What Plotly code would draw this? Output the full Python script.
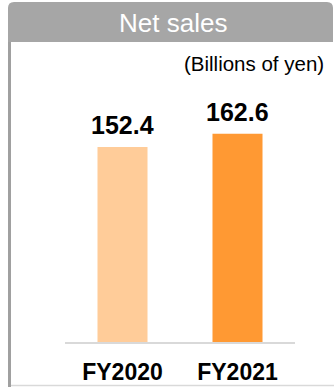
import plotly.graph_objects as go

categories = ["FY2020", "FY2021"]
values = [152.4, 162.6]
bar_colors = ["#FFCC99", "#FF9933"]
title_text = "Net sales"
unit_text = "(Billions of yen)"

W, H = 334, 387

def px(x):
    return x / W

def py(y):
    return 1 - y / H

fig = go.Figure()
fig.add_trace(go.Bar(
    x=categories, y=values, marker_color=bar_colors, marker_line_width=0,
    hoverinfo="skip", showlegend=False,
))

for c, v in zip(categories, values):
    fig.add_annotation(
        x=c, y=v, xref="x", yref="y", text=f"<b>{v:.1f}</b>", showarrow=False,
        yanchor="bottom", yshift=6,
        font=dict(family="Liberation Sans, Arial", size=25, color="#000000"),
    )

# header box with rounded top corners
x0, x1, y0, y1 = px(8), px(333), py(2), py(42)
rx, ry = px(6) - px(0), 6 / H
path = (f"M {x0},{y1} L {x0},{y0 - ry} Q {x0},{y0} {x0 + rx},{y0} "
        f"L {x1 - rx},{y0} Q {x1},{y0} {x1},{y0 - ry} L {x1},{y1} Z")
shapes = [
    dict(type="path", xref="paper", yref="paper", path=path,
         fillcolor="#A6A6A6", line=dict(width=0), layer="below"),
    dict(type="line", xref="paper", yref="paper", x0=px(9.5), x1=px(9.5),
         y0=py(42), y1=0, line=dict(color="#A0A0A0", width=3)),
    dict(type="line", xref="paper", yref="paper", x0=px(11), x1=1,
         y0=py(385.5), y1=py(385.5), line=dict(color="#D9D9D9", width=1.5)),
]

annotations_extra = [
    dict(x=px(173), y=py(23), xref="paper", yref="paper", text=title_text,
         showarrow=False, xanchor="center", yanchor="middle",
         font=dict(family="Liberation Sans, Arial", size=26, color="#FFFFFF")),
    dict(x=px(326), y=py(63), xref="paper", yref="paper", text=unit_text,
         showarrow=False, xanchor="right", yanchor="middle",
         font=dict(family="Liberation Sans, Arial", size=20.5, color="#000000")),
]
for a in annotations_extra:
    fig.add_annotation(**a)

base_y = 342
top_y = 60
scale = 1.28
yr = (base_y - top_y) / scale

fig.update_layout(
    width=W, height=H,
    margin=dict(l=0, r=0, t=0, b=0),
    paper_bgcolor="#FFFFFF", plot_bgcolor="#FFFFFF",
    bargap=0.565,
    shapes=shapes,
    xaxis=dict(
        domain=[px(65), px(295)], showgrid=False, zeroline=False,
        showline=True, linecolor="#D9D9D9", linewidth=2,
        ticks="outside", ticklen=8, tickcolor="rgba(0,0,0,0)",
        tickfont=dict(family="Liberation Sans, Arial", size=23, color="#000000"),
        tickvals=categories, ticktext=[f"<b>{c}</b>" for c in categories],
        fixedrange=True,
    ),
    yaxis=dict(
        domain=[py(base_y), py(top_y)], range=[0, yr], visible=False,
        showgrid=False, zeroline=False, fixedrange=True,
    ),
)

fig.write_html("out.html")
